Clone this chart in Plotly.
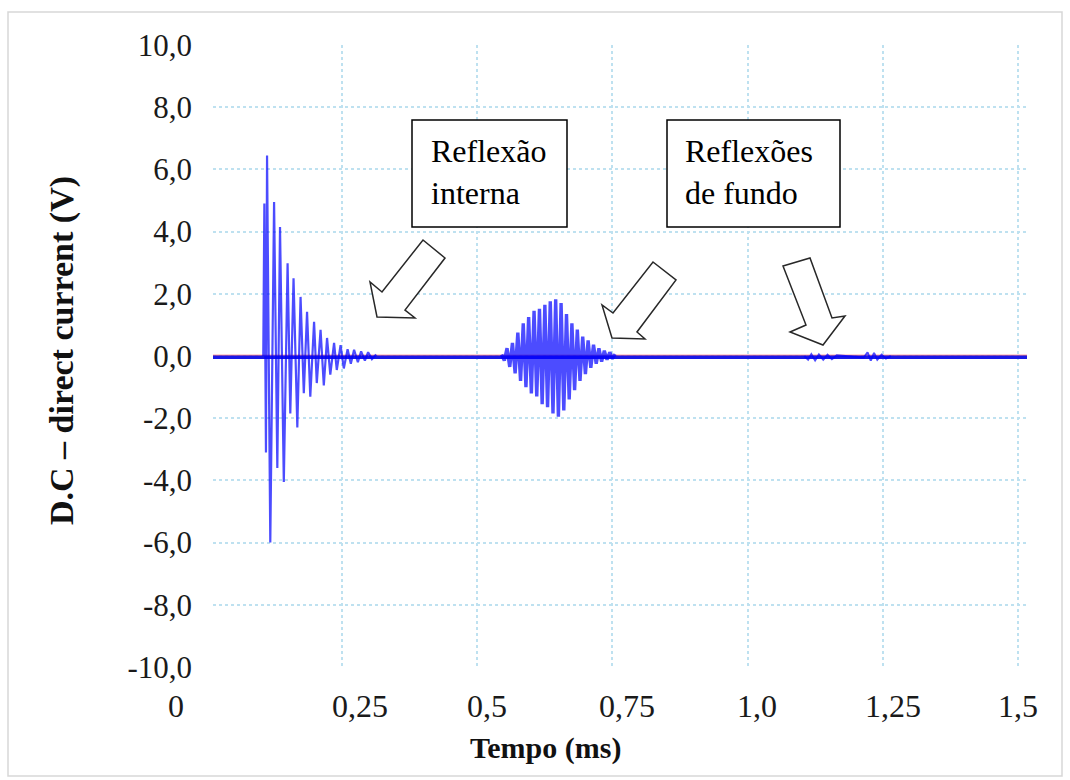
import plotly.graph_objects as go

# ---------------- data ----------------
# time in ms, voltage in V
burst1_t = [0.104, 0.106, 0.109, 0.111, 0.117, 0.124, 0.130, 0.135, 0.142, 0.149,
            0.154, 0.160, 0.167, 0.173, 0.179, 0.185, 0.191, 0.198, 0.203, 0.210,
            0.216, 0.222, 0.228, 0.235, 0.240, 0.247, 0.253, 0.260, 0.266, 0.272,
            0.279, 0.285, 0.292, 0.298, 0.305, 0.313]
burst1_v = [0.0, 4.9, -3.1, 6.45, -6.0, 4.95, -3.6, 4.15, -4.05, 2.98,
            -1.85, 2.5, -2.3, 1.9, -1.2, 1.42, -1.31, 1.1, -0.87, 0.84,
            -0.95, 0.58, -0.6, 0.42, -0.45, 0.35, -0.4, 0.22, -0.25, 0.2,
            -0.2, 0.15, -0.15, 0.12, -0.1, 0.05]

burst2_t = [0.545, 0.550, 0.555, 0.560, 0.565, 0.570, 0.575, 0.580, 0.585, 0.590,
            0.595, 0.600, 0.605, 0.610, 0.615, 0.620, 0.625, 0.630, 0.635, 0.640,
            0.645, 0.650, 0.655, 0.660, 0.665, 0.670, 0.675, 0.680, 0.685, 0.690,
            0.695, 0.700, 0.705, 0.710, 0.715, 0.720, 0.725, 0.730, 0.735, 0.740,
            0.745, 0.750, 0.755]
burst2_v = [0.05, -0.15, 0.25, -0.35, 0.42, -0.56, 0.75, -0.8, 1.05, -1.0,
            1.25, -1.2, 1.45, -1.3, 1.52, -1.55, 1.65, -1.65, 1.76, -1.85,
            1.82, -1.95, 1.7, -1.75, 1.35, -1.4, 1.05, -1.1, 0.85, -0.8,
            0.62, -0.58, 0.5, -0.38, 0.36, -0.25, 0.25, -0.18, 0.17, -0.12,
            0.12, -0.08, 0.06]

burst3_t = [1.105, 1.112, 1.118, 1.125, 1.132, 1.140, 1.148, 1.156, 1.165,
            1.215, 1.222, 1.228, 1.234, 1.240, 1.248, 1.256, 1.265]
burst3_v = [0.0, -0.12, 0.06, -0.14, 0.05, -0.12, 0.04, -0.1, 0.02,
            -0.05, 0.12, -0.15, 0.1, -0.12, 0.04, -0.08, 0.0]

baseline_t = [0.011, 1.517]
baseline_v = [-0.04, -0.04]

ref_t = [0.011, 1.517]
ref_v = [0.025, 0.025]

y_ticks = [-10, -8, -6, -4, -2, 0, 2, 4, 6, 8, 10]
y_tick_text = ["-10,0", "-8,0", "-6,0", "-4,0", "-2,0", "0,0", "2,0", "4,0", "6,0", "8,0", "10,0"]
x_grid = [0.25, 0.5, 0.75, 1.0, 1.25, 1.5]
x_tick_text = ["0", "0,25", "0,5", "0,75", "1,0", "1,25", "1,5"]

# ---------------- layout geometry (pixels) ----------------
W, H = 1070, 780
L, R, T, B = 213, 1027, 45, 667


def px(x):
    return (x - L) / (R - L)


def py(y):
    return (B - y) / (B - T)


def path(points):
    return "M " + " L ".join(f"{px(a):.5f},{py(b):.5f}" for a, b in points) + " Z"


SERIF = "Liberation Serif, Times New Roman, serif"
GRID = "rgb(190,225,240)"

fig = go.Figure()

fig.add_trace(go.Scatter(x=ref_t, y=ref_v, mode="lines",
                         line=dict(color="rgb(255,90,90)", width=1),
                         hoverinfo="skip", showlegend=False))
fig.add_trace(go.Scatter(x=baseline_t, y=baseline_v, mode="lines",
                         line=dict(color="rgb(25,25,230)", width=3.5),
                         hoverinfo="skip", showlegend=False))

for bt, bv, w in [(burst1_t, burst1_v, 2.2), (burst2_t, burst2_v, 3.4), (burst3_t, burst3_v, 2.0)]:
    fig.add_trace(go.Scatter(x=bt, y=bv, mode="lines",
                             line=dict(color="rgba(0,0,255,0.7)", width=w),
                             hoverinfo="skip", showlegend=False))

shapes = []
# outer border
shapes.append(dict(type="rect", xref="paper", yref="paper",
                   x0=px(8), x1=px(1062), y0=py(776), y1=py(12),
                   line=dict(color="rgb(215,215,215)", width=1.5), layer="below"))
# text boxes
for (x0, x1) in [(412, 567), (667, 840)]:
    shapes.append(dict(type="rect", xref="paper", yref="paper",
                       x0=px(x0), x1=px(x1), y0=py(227), y1=py(120),
                       line=dict(color="black", width=1.5), fillcolor="white"))
# block arrows
arrow1 = [(423, 240), (445, 258), (405, 310), (415, 318), (377, 317), (370, 282), (382, 292)]
arrow2 = [(653, 262), (676, 280), (637, 332), (645, 339), (612, 338), (602, 305), (613, 313)]
arrow3 = [(783, 266), (810, 258), (832, 318), (845, 316), (823, 345), (790, 332), (806, 325)]
for a in (arrow1, arrow2, arrow3):
    shapes.append(dict(type="path", xref="paper", yref="paper", path=path(a),
                       line=dict(color="rgb(40,40,40)", width=1.5), fillcolor="white"))

annotations = []
xlab_px = [176, 360, 487, 627, 757, 893, 1018]
for t, xp in zip(x_tick_text, xlab_px):
    annotations.append(dict(text=t, xref="paper", yref="paper", x=px(xp), y=py(706),
                            showarrow=False, xanchor="center", yanchor="middle",
                            font=dict(family=SERIF, size=32, color="#1a1a1a")))
annotations.append(dict(text="<b>Tempo (ms)</b>", xref="paper", yref="paper",
                        x=px(545), y=py(748), showarrow=False,
                        xanchor="center", yanchor="middle",
                        font=dict(family=SERIF, size=30, color="#111")))
annotations.append(dict(text="<b>D.C – direct current (V)</b>", xref="paper", yref="paper",
                        x=px(62), y=py(351), showarrow=False, textangle=-90,
                        xanchor="center", yanchor="middle",
                        font=dict(family=SERIF, size=34, color="#111")))
annotations.append(dict(text="Reflexão<br>interna", xref="paper", yref="paper",
                        x=px(429), y=py(172), showarrow=False, align="left",
                        xanchor="left", yanchor="middle",
                        font=dict(family=SERIF, size=32, color="black")))
annotations.append(dict(text="Reflexões<br>de fundo", xref="paper", yref="paper",
                        x=px(683), y=py(172), showarrow=False, align="left",
                        xanchor="left", yanchor="middle",
                        font=dict(family=SERIF, size=32, color="black")))

fig.update_layout(
    width=W, height=H,
    margin=dict(l=L, r=W - R, t=T, b=H - B),
    paper_bgcolor="white", plot_bgcolor="white",
    shapes=shapes, annotations=annotations,
    xaxis=dict(range=[0.011, 1.517], tickvals=x_grid, showticklabels=False,
               showgrid=True, gridcolor=GRID, griddash="dot", gridwidth=1.5,
               zeroline=False, showline=False, ticks=""),
    yaxis=dict(range=[-10, 10], tickvals=y_ticks, ticktext=y_tick_text,
               showgrid=True, gridcolor=GRID, griddash="dot", gridwidth=1.5,
               zeroline=False, showline=False, ticks="", ticklabelstandoff=20,
               tickfont=dict(family=SERIF, size=31, color="#1a1a1a")),
)

fig.write_html("out.html")
